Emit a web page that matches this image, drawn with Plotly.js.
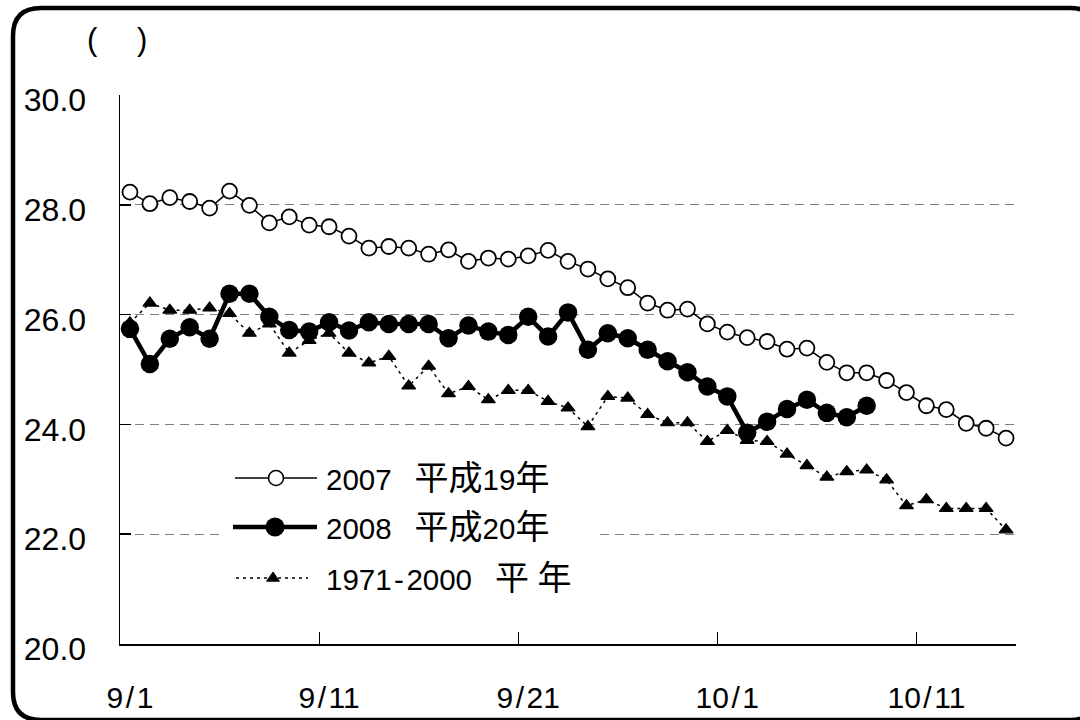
<!DOCTYPE html>
<html><head><meta charset="utf-8">
<script src="https://cdn.plot.ly/plotly-3.0.1.min.js"></script>
<style>html,body{margin:0;padding:0;background:#fff;overflow:hidden;}#chart{width:1080px;height:720px;}</style>
</head><body><div id="chart"></div>
<script>
// ---- data ----
const startDate = [2008, 8, 1]; // 9/1
const nDays = 45;               // 9/1 .. 10/15
const dates = [];
for (let i = 0; i < nDays; i++) {
  dates.push(new Date(Date.UTC(startDate[0], startDate[1], startDate[2] + i)).toISOString().slice(0, 10));
}
const tickDates  = ['2008-09-01', '2008-09-11', '2008-09-21', '2008-10-01', '2008-10-11'];
const tickLabels = ['9/1', '9/11', '9/21', '10/1', '10/11'];
const yTicks = [20, 22, 24, 26, 28, 30];

const temp2007 = [28.23, 28.02, 28.13, 28.06, 27.94, 28.25, 27.99, 27.67, 27.78, 27.63,
                  27.60, 27.43, 27.21, 27.24, 27.21, 27.10, 27.18, 26.97, 27.03, 27.01,
                  27.07, 27.17, 26.97, 26.83, 26.65, 26.49, 26.21, 26.08, 26.10, 25.83,
                  25.68, 25.58, 25.51, 25.37, 25.39, 25.13, 24.94, 24.94, 24.80, 24.58,
                  24.34, 24.27, 24.02, 23.93, 23.75];
const temp2008 = [25.74, 25.10, 25.56, 25.77, 25.56, 26.38, 26.38, 25.96, 25.72, 25.69,
                  25.86, 25.71, 25.86, 25.83, 25.83, 25.83, 25.57, 25.80, 25.69, 25.63,
                  25.96, 25.60, 26.04, 25.36, 25.66, 25.57, 25.36, 25.15, 24.95, 24.69,
                  24.51, 23.85, 24.05, 24.28, 24.45, 24.21, 24.13, 24.34];
const tempNormal = [25.85, 26.21, 26.08, 26.08, 26.12, 26.02, 25.66, 25.83, 25.30, 25.53,
                    25.66, 25.30, 25.12, 25.24, 24.70, 25.06, 24.56, 24.69, 24.45, 24.62,
                    24.62, 24.42, 24.30, 23.96, 24.51, 24.48, 24.18, 24.03, 24.03, 23.69,
                    23.89, 23.71, 23.69, 23.46, 23.25, 23.04, 23.14, 23.17, 22.99, 22.52,
                    22.63, 22.47, 22.47, 22.47, 22.08];
const seriesNames = ['2007 平成19年', '2008 平成20年', '1971-2000 平年'];

// ---- layout helpers (pixel -> paper) ----
const ML = 120, MT = 95, PW = 896, PH = 549;
const px = x => (x - ML) / PW;
const py = y => (MT + PH - y) / PH;
const FONT = 'Liberation Sans, Arial, Noto Sans CJK JP, sans-serif';

const midDate = (d) => d + ' 12:00';
const minorTicks = [dates[9], dates[19], dates[29], dates[39]].map(midDate);

const traces = [
  {x: dates, y: tempNormal, name: seriesNames[2], type: 'scatter', mode: 'lines+markers',
   line: {color: '#000', width: 1.5, dash: '3px,4px'},
   marker: {symbol: 'triangle-up', size: 12, color: '#000', line: {color: '#000', width: 1.2}},
   cliponaxis: false},
  {x: dates, y: temp2007, name: seriesNames[0], type: 'scatter', mode: 'lines+markers',
   line: {color: '#000', width: 1.5},
   marker: {symbol: 'circle', size: 15, color: '#fff', line: {color: '#000', width: 1.8}},
   cliponaxis: false},
  {x: dates.slice(0, temp2008.length), y: temp2008, name: seriesNames[1], type: 'scatter', mode: 'lines+markers',
   line: {color: '#000', width: 4.5},
   marker: {symbol: 'circle', size: 18.5, color: '#000'},
   cliponaxis: false}
];

// outer frame: rounded on the left, running off the right edge of the picture
function framePath(x0, y0, xr, y1, r) {
  const P = (x, y) => px(x) + ',' + py(y);
  return 'M' + P(xr, y0) + ' L' + P(x0 + r, y0) + ' Q' + P(x0, y0) + ' ' + P(x0, y0 + r) +
         ' L' + P(x0, y1 - r) + ' Q' + P(x0, y1) + ' ' + P(x0 + r, y1) + ' L' + P(xr, y1);
}
function cornerTR(xc, y0, r) { // top-right rounded corner piece
  const P = (x, y) => px(x) + ',' + py(y);
  return 'M' + P(xc - r, y0) + ' Q' + P(xc, y0) + ' ' + P(xc, y0 + r);
}
function cornerBR(xc, y1, r) {
  const P = (x, y) => px(x) + ',' + py(y);
  return 'M' + P(xc, y1 - r) + ' Q' + P(xc, y1) + ' ' + P(xc - r, y1);
}

const legendRows = [478, 527, 578];
const shapes = [
  {type: 'path', xref: 'paper', yref: 'paper', path: framePath(13, 8, 1070, 720, 28),
   line: {color: '#000', width: 4.5}, layer: 'above'},
  {type: 'path', xref: 'paper', yref: 'paper', path: cornerTR(1096, 8, 26),
   line: {color: '#000', width: 4.5}, layer: 'above'},
  {type: 'path', xref: 'paper', yref: 'paper', path: cornerBR(1096, 720, 26),
   line: {color: '#000', width: 4.5}, layer: 'above'},
  {type: 'rect', xref: 'paper', yref: 'paper', x0: px(220), x1: px(597), y0: py(455), y1: py(605),
   fillcolor: '#fff', line: {width: 0}, layer: 'above'},
  // legend lines
  {type: 'line', xref: 'paper', yref: 'paper', x0: px(235), x1: px(317), y0: py(legendRows[0]), y1: py(legendRows[0]),
   line: {color: '#000', width: 1.5}, layer: 'above'},
  {type: 'line', xref: 'paper', yref: 'paper', x0: px(233), x1: px(317), y0: py(legendRows[1]), y1: py(legendRows[1]),
   line: {color: '#000', width: 4.5}, layer: 'above'},
  {type: 'line', xref: 'paper', yref: 'paper', x0: px(236), x1: px(308), y0: py(legendRows[2]), y1: py(legendRows[2]),
   line: {color: '#000', width: 1.5, dash: '3px,4px'}, layer: 'above'},
  // legend markers
  {type: 'circle', xref: 'paper', yref: 'paper', xsizemode: 'pixel', ysizemode: 'pixel',
   xanchor: px(276), yanchor: py(legendRows[0]), x0: -7.5, x1: 7.5, y0: -7.5, y1: 7.5,
   fillcolor: '#fff', line: {color: '#000', width: 1.6}, layer: 'above'},
  {type: 'circle', xref: 'paper', yref: 'paper', xsizemode: 'pixel', ysizemode: 'pixel',
   xanchor: px(275), yanchor: py(legendRows[1]), x0: -9.5, x1: 9.5, y0: -9.5, y1: 9.5,
   fillcolor: '#000', line: {color: '#000', width: 0}, layer: 'above'},
  {type: 'path', xref: 'paper', yref: 'paper', xsizemode: 'pixel', ysizemode: 'pixel',
   xanchor: px(273), yanchor: py(legendRows[2]), path: 'M-6.4,-3.2 L6.4,-3.2 L0,6 Z',
   fillcolor: '#000', line: {color: '#000', width: 1}, layer: 'above'}
];

const cjk = s => '<span style="font-size:34px">' + s + '</span>';
const legendTexts = [
  '2007\u2002 ' + cjk('平成') + '19' + cjk('年'),
  '2008\u2002 ' + cjk('平成') + '20' + cjk('年'),
  '1971\u200A-\u200A2000\u2002 ' + cjk('平\u2005年')
];

const annotations = [
  {xref: 'paper', yref: 'paper', x: px(92), y: py(40), text: '(', showarrow: false,
   xanchor: 'center', yanchor: 'middle', font: {family: FONT, size: 31, color: '#000'}},
  {xref: 'paper', yref: 'paper', x: px(142), y: py(40), text: ')', showarrow: false,
   xanchor: 'center', yanchor: 'middle', font: {family: FONT, size: 31, color: '#000'}}
];
legendTexts.forEach((t, k) => {
  annotations.push({xref: 'paper', yref: 'paper', x: px(324), y: py(legendRows[k]), text: t,
    showarrow: false, xanchor: 'left', yanchor: 'middle',
    font: {family: FONT, size: 29.5, color: '#000'}});
});

const layout = {
  width: 1080, height: 720,
  margin: {l: ML, r: 1080 - ML - PW, t: MT, b: 720 - MT - PH, pad: 0},
  paper_bgcolor: '#fff', plot_bgcolor: '#fff',
  showlegend: false,
  font: {family: FONT, color: '#000'},
  xaxis: {
    type: 'date',
    range: [midDate('2008-08-31'), midDate(dates[nDays - 1])],
    tickmode: 'array', tickvals: tickDates,
    ticktext: tickLabels.map(s => s.replace('/', '\u200A/\u200A')),
    ticks: '', showgrid: false, zeroline: false,
    showline: true, linecolor: '#000', linewidth: 2,
    tickfont: {family: FONT, size: 30, color: '#000'},
    ticklabelstandoff: 26,
    minor: {tickmode: 'array', tickvals: minorTicks, ticks: 'inside', ticklen: 12,
            tickwidth: 1.2, tickcolor: '#000', showgrid: false},
    fixedrange: true
  },
  yaxis: {
    range: [20, 30],
    tickmode: 'array', tickvals: yTicks, ticktext: yTicks.map(v => v.toFixed(1)),
    ticks: 'inside', ticklen: 11, tickwidth: 1.5, tickcolor: '#000',
    showgrid: true, gridcolor: '#7f7f7f', gridwidth: 1, griddash: '9px,6px',
    zeroline: false, showline: true, linecolor: '#000', linewidth: 1.5,
    tickfont: {family: FONT, size: 32, color: '#000'},
    ticklabelstandoff: 26, ticklabelshift: 5,
    fixedrange: true
  },
  shapes: shapes,
  annotations: annotations
};

Plotly.newPlot('chart', traces, layout, {staticPlot: true, displayModeBar: false});
</script>
</body></html>
